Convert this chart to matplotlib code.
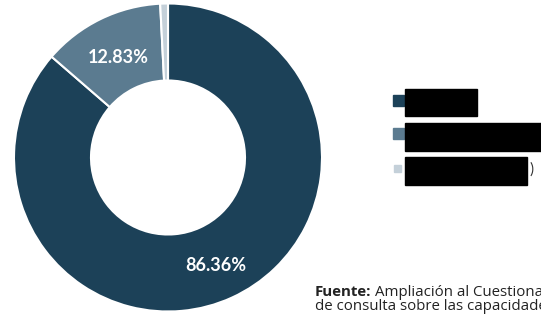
import matplotlib.pyplot as plt
from matplotlib.patches import Rectangle

# === Data ===
labels = ['Sí', 'No', 'No sabe']
values = [86.36, 12.83, 0.81]
colors = ['#1c4158', '#5b7b90', '#c4d0d9']
pct_text = ['86.36%', '12.83%', '']

W, H = 541, 316
fig = plt.figure(figsize=(W / 100, H / 100), dpi=100)
plt.rcParams['font.family'] = ['Lato', 'DejaVu Sans']

# === Donut ===
ax = fig.add_axes([14 / W, 4 / H, 308 / W, 309 / H])
wedges, _ = ax.pie(values, colors=colors, startangle=90, counterclock=False,
                   radius=1.0, wedgeprops=dict(width=0.5, edgecolor='white', linewidth=1.5))
ax.set_aspect('equal')
ax.set_xlim(-1, 1)
ax.set_ylim(-1, 1)

# percentage labels
label_pos = [(0.31, -0.70), (-0.32, 0.65)]
for (x, y), t in zip(label_pos, pct_text[:2]):
    ax.text(x, y, t, ha='center', va='center', color='white',
            fontsize=13, fontweight='bold')

# === Legend (labels redacted in the reference) ===
sq = [(393, 95, 11), (393, 128, 11), (394, 165, 7)]
boxes = [(405, 89, 72, 27), (405, 123, 136, 28), (405, 157, 122, 28)]
for (sx, sy, s), c, (bx, by, bw, bh), lab in zip(sq, colors, boxes, labels):
    fig.patches.append(Rectangle((sx / W, 1 - (sy + s) / H), s / W, s / H,
                                 transform=fig.transFigure, color=c))
    fig.text((bx + 4) / W, 1 - (by + bh / 2) / H, lab, va='center',
             fontsize=9, color='black')
    fig.patches.append(Rectangle((bx / W, 1 - (by + bh) / H), bw / W, bh / H,
                                 transform=fig.transFigure, color='black', zorder=5))
fig.text(529 / W, 1 - 170 / H, ')', va='center', fontsize=11, color='#333333')

# === Source note ===
fig.text(315 / W, 1 - 292 / H, 'Fuente:', fontsize=10.8, fontweight='bold',
         color='#222222', va='center', family='Open Sans')
fig.text(375 / W, 1 - 292 / H, 'Ampliación al Cuestionario', fontsize=10.8,
         color='#222222', va='center', family='Open Sans')
fig.text(315 / W, 1 - 307 / H, 'de consulta sobre las capacidades', fontsize=10.8,
         color='#222222', va='center', family='Open Sans')

plt.savefig('out.png', dpi=100)
